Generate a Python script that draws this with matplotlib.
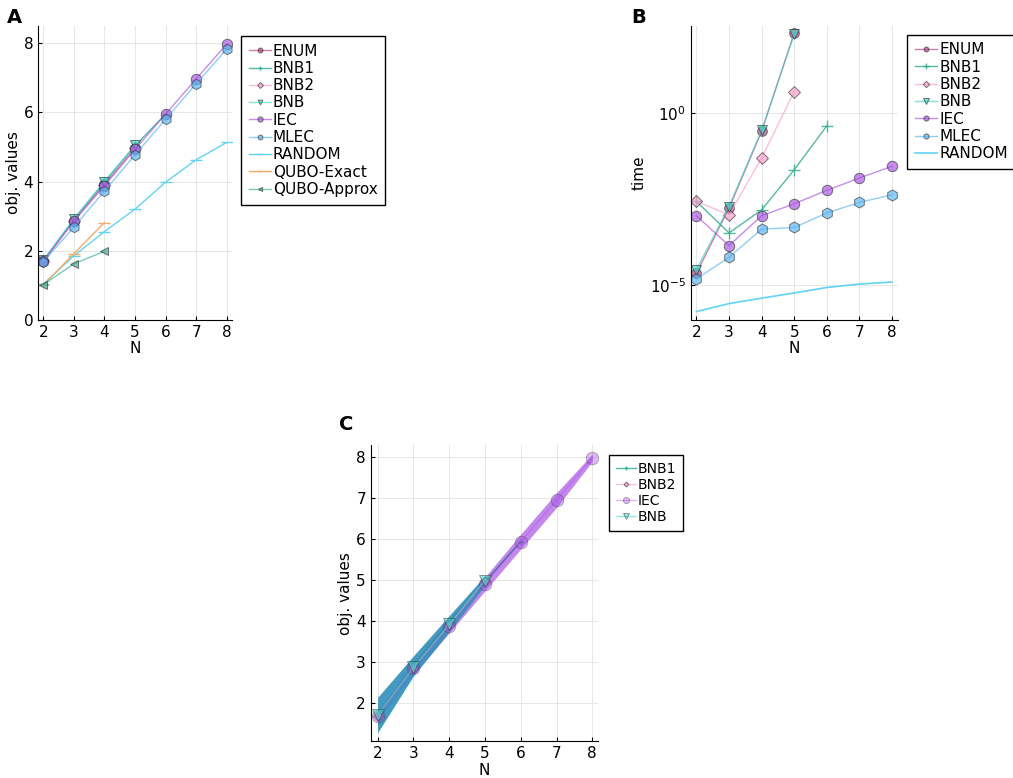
import numpy as np
import matplotlib.pyplot as plt
from matplotlib.ticker import FixedLocator, LogFormatterMathtext

# Datos
N = np.array([2, 3, 4, 5, 6, 7, 8])

# Panel A: valores objetivo
obj_enum = [1.69, 2.87, 3.92, 4.96]
obj_bnb1 = [1.70, 2.90, 3.98, 5.03, 5.95]
obj_bnb2 = [1.69, 2.86, 3.90, 4.98]
obj_bnb = [1.72, 2.92, 4.00, 5.05]
obj_iec = [1.69, 2.85, 3.88, 4.93, 5.95, 6.97, 7.98]
obj_mlec = [1.67, 2.68, 3.72, 4.77, 5.80, 6.83, 7.83]
obj_random = [1.03, 1.85, 2.55, 3.20, 3.98, 4.63, 5.13]
obj_qubo_exact = [1.00, 1.91, 2.81]
obj_qubo_approx = [1.01, 1.62, 1.98]

# Panel B: tiempos (log10)
t_enum = [-4.66, -2.77, -0.53, 2.33]
t_bnb1 = [-2.57, -3.49, -2.82, -1.65, -0.37]
t_bnb2 = [-2.57, -2.96, -1.31, 0.63]
t_bnb = [-4.56, -2.72, -0.50, 2.30]
t_iec = [-2.99, -3.86, -2.99, -2.64, -2.25, -1.89, -1.55]
t_mlec = [-4.83, -4.20, -3.38, -3.33, -2.91, -2.60, -2.38]
t_random = [-5.78, -5.55, -5.39, -5.24, -5.08, -4.98, -4.92]

# Panel C: medias y bandas
c_bnb1 = [1.70, 2.88, 3.95, 4.95, 5.93]
c_bnb2 = [1.69, 2.86, 3.90, 4.98]
c_iec = [1.69, 2.85, 3.88, 4.90, 5.93, 6.94, 7.97]
c_bnb = [1.72, 2.87, 3.93, 4.98]
bnb_low = [1.28, 2.66, 3.74, 4.86]
bnb_high = [2.14, 3.15, 4.13, 5.10]
iec_std = [0.12, 0.16, 0.17, 0.17, 0.18, 0.18, 0.09]

# Colores
c_ENUM = '#b03a82'
c_BNB1 = '#2aa88c'
c_BNB2 = '#f79bc9'
c_BNB = '#3cd6c4'
c_IEC = '#a652e0'
c_MLEC = '#58b2f0'
c_RANDOM = '#62d4f2'
c_QE = '#f0ad6a'
c_QA = '#3aab8e'

plt.rcParams['font.family'] = 'DejaVu Sans'
plt.rcParams['font.size'] = 11

fig = plt.figure(figsize=(10.13, 7.78), dpi=100)
axA = fig.add_axes([0.0375, 0.589, 0.1915, 0.3776])
axB = fig.add_axes([0.682, 0.589, 0.204, 0.3776])
axC = fig.add_axes([0.366, 0.047, 0.224, 0.381])

mk = dict(markeredgecolor='#333333', markeredgewidth=0.7, alpha=0.65, linewidth=1)
ley = dict(loc='upper left', fancybox=False, edgecolor='black', framealpha=1,
           markerscale=0.5, handlelength=1.45, handletextpad=0.15,
           labelspacing=0.15, borderpad=0.5, borderaxespad=0)


def estilo(ax):
    ax.spines['top'].set_visible(False)
    ax.spines['right'].set_visible(False)
    ax.grid(True, color='#e6e6e6', linewidth=0.7)
    ax.set_axisbelow(True)
    ax.tick_params(direction='in', length=3, labelsize=11)
    ax.set_xticks(N)
    ax.set_xlabel('N', labelpad=1)


# --- Panel A ---
axA.plot(N[:4], obj_enum, 'o-', color=c_ENUM, markersize=7, label='ENUM', **mk)
axA.plot(N[:5], obj_bnb1, '+-', color=c_BNB1, markersize=7, label='BNB1', alpha=0.8, linewidth=1)
axA.plot(N[:4], obj_bnb2, 'D-', color=c_BNB2, markersize=6, label='BNB2', **mk)
axA.plot(N[:4], obj_bnb, 'v-', color=c_BNB, markersize=7, label='BNB', **mk)
axA.plot(N, obj_iec, 'o-', color=c_IEC, markersize=7.5, label='IEC', **mk)
axA.plot(N, obj_mlec, 'h-', color=c_MLEC, markersize=7.5, label='MLEC', **mk)
axA.plot(N, obj_random, '_-', color=c_RANDOM, markersize=8, label='RANDOM', linewidth=1)
axA.plot(N[:3], obj_qubo_exact, '_-', color=c_QE, markersize=8, label='QUBO-Exact', linewidth=1)
axA.plot(N[:3], obj_qubo_approx, '<-', color=c_QA, markersize=6, label='QUBO-Approx', **mk)
estilo(axA)
axA.set_xlim(1.83, 8.17)
axA.set_ylim(0, 8.5)
axA.set_yticks([0, 2, 4, 6, 8])
axA.set_ylabel('obj. values', labelpad=2)
axA.legend(bbox_to_anchor=(1.046, 0.966), fontsize=11, **ley)

# --- Panel B ---
axB.plot(N[:4], 10.0**np.array(t_enum), 'o-', color=c_ENUM, markersize=7, label='ENUM', **mk)
axB.plot(N[:5], 10.0**np.array(t_bnb1), '+-', color=c_BNB1, markersize=9, label='BNB1', alpha=0.8, linewidth=1)
axB.plot(N[:4], 10.0**np.array(t_bnb2), 'D-', color=c_BNB2, markersize=6.5, label='BNB2', **mk)
axB.plot(N[:4], 10.0**np.array(t_bnb), 'v-', color=c_BNB, markersize=7.5, label='BNB', **mk)
axB.plot(N, 10.0**np.array(t_iec), 'o-', color=c_IEC, markersize=7.5, label='IEC', **mk)
axB.plot(N, 10.0**np.array(t_mlec), 'h-', color=c_MLEC, markersize=8, label='MLEC', **mk)
axB.plot(N, 10.0**np.array(t_random), '-', color=c_RANDOM, label='RANDOM', linewidth=1.2)
estilo(axB)
axB.set_yscale('log')
axB.set_xlim(1.83, 8.17)
axB.set_ylim(10**-6.02, 10**2.54)
axB.yaxis.set_major_locator(FixedLocator([1e-5, 1e0]))
axB.yaxis.set_major_formatter(LogFormatterMathtext())
axB.yaxis.set_minor_locator(FixedLocator([]))
axB.set_ylabel('time', labelpad=2)
axB.legend(bbox_to_anchor=(1.048, 0.97), fontsize=11, **ley)

# --- Panel C ---
iec_arr = np.array(c_iec)
std_arr = np.array(iec_std)
axC.fill_between(N, iec_arr - std_arr, iec_arr + std_arr, color='#b060e8', alpha=0.75, linewidth=0)
axC.fill_between(N[:4], bnb_low, bnb_high, color='#3592bd', alpha=0.92, linewidth=0)
axC.plot(N[:5], c_bnb1, '+-', color='#1f6f80', markersize=5, label='BNB1', alpha=0.8, linewidth=1)
axC.plot(N[:4], c_bnb2, 'D-', color=c_BNB2, markersize=5, label='BNB2', **mk)
axC.plot(N, c_iec, 'o-', color=c_IEC, markersize=9, label='IEC',
         markeredgecolor='#333333', markeredgewidth=0.6, alpha=0.4, linewidth=1)
axC.plot(N[:4], c_bnb, 'v-', color=c_BNB, markersize=9, label='BNB',
         markeredgecolor='#333333', markeredgewidth=0.6, alpha=0.55, linewidth=1)
estilo(axC)
axC.set_xlim(1.81, 8.15)
axC.set_ylim(1.07, 8.28)
axC.set_yticks([2, 3, 4, 5, 6, 7, 8])
axC.set_ylabel('obj. values', labelpad=2)
legC = axC.legend(bbox_to_anchor=(1.048, 0.966), fontsize=10, **ley)
for linea, col in zip(legC.get_lines(), [c_BNB1, c_BNB2, c_IEC, c_BNB]):
    linea.set_color(col)

# Letras de panel
fig.text(0.007, 0.99, 'A', fontsize=14, fontweight='bold', va='top')
fig.text(0.623, 0.99, 'B', fontsize=14, fontweight='bold', va='top')
fig.text(0.335, 0.466, 'C', fontsize=14, fontweight='bold', va='top')

fig.savefig('out.png', dpi=100)
